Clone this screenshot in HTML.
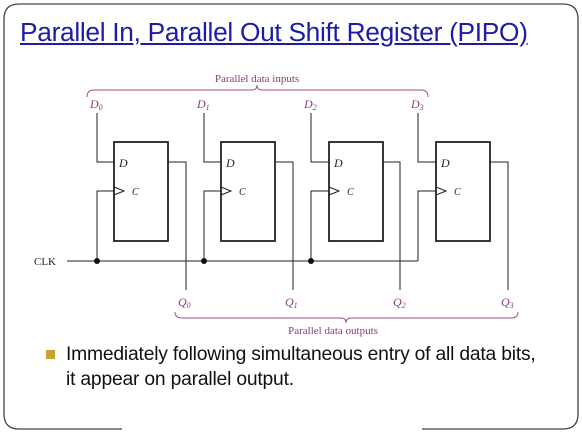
<!DOCTYPE html>
<html><head><style>
body{margin:0;width:582px;height:437px;background:#fff;overflow:hidden;position:relative;font-family:"Liberation Sans",sans-serif}
.t{position:absolute;left:20px;top:17px;font-size:26.3px;color:#1c1ca8;text-decoration:underline;letter-spacing:-0.3px;white-space:nowrap}
.b{position:absolute;left:66px;top:342px;font-size:19.3px;line-height:25px;color:#111;white-space:nowrap;letter-spacing:-0.2px}
.sq{position:absolute;left:46px;top:350px;width:9px;height:9px;background:#c9a233}
</style></head><body>
<svg width="582" height="437" style="position:absolute;left:0;top:0">
<path d="M122 429 H19 Q4 429 4 414 V19 Q4 4 19 4 H563 Q578 4 578 19 V414 Q578 429 563 429 H422" fill="none" stroke="#444" stroke-width="1.3"/>
<g fill="none" stroke="#222" stroke-width="1">
<rect x="114" y="142" width="54" height="99" stroke-width="1.8"/>
<rect x="221" y="142" width="54" height="99" stroke-width="1.8"/>
<rect x="329" y="142" width="54" height="99" stroke-width="1.8"/>
<rect x="436" y="142" width="54" height="99" stroke-width="1.8"/>
<path d="M97 113V162H114M204 113V162H221M311 113V162H329M418 113V162H436"/>
<path d="M97 261V191H114M204 261V191H221M311 261V191H329M418 261V191H436"/>
<path d="M67 261H418"/>
<path d="M168 162H186V290M275 162H293V290M383 162H400V290M490 162H508V290"/>
<path d="M114 187L124 191L114 195M221 187L231 191L221 195M329 187L339 191L329 195M436 187L446 191L436 195"/>
</g>
<g fill="#111"><circle cx="97" cy="261" r="3"/><circle cx="204" cy="261" r="3"/><circle cx="311" cy="261" r="3"/></g>
<g fill="none" stroke="#a0508a" stroke-width="1">
<path d="M87 97Q87 90 94 90H252Q257 90 257 85Q257 90 262 90H421Q428 90 428 97"/>
<path d="M175 312Q175 318 182 318H341Q346 318 346 323Q346 318 351 318H511Q518 318 518 312"/>
</g>
<g font-family="Liberation Serif,serif" font-size="11" fill="#8a3a80">
<text x="257" y="82" text-anchor="middle">Parallel data inputs</text>
<text x="333" y="334" text-anchor="middle">Parallel data outputs</text>
</g>
<g font-family="Liberation Serif,serif" font-style="italic" font-size="12" fill="#8a3a80">
<text x="90" y="108">D<tspan font-size="8" dy="2">0</tspan></text>
<text x="197" y="108">D<tspan font-size="8" dy="2">1</tspan></text>
<text x="304" y="108">D<tspan font-size="8" dy="2">2</tspan></text>
<text x="411" y="108">D<tspan font-size="8" dy="2">3</tspan></text>
<text x="178" y="306">Q<tspan font-size="8" dy="2">0</tspan></text>
<text x="285" y="306">Q<tspan font-size="8" dy="2">1</tspan></text>
<text x="393" y="306">Q<tspan font-size="8" dy="2">2</tspan></text>
<text x="501" y="306">Q<tspan font-size="8" dy="2">3</tspan></text>
</g>
<g font-family="Liberation Serif,serif" font-style="italic" font-size="12" fill="#222">
<text x="119" y="167">D</text><text x="226" y="167">D</text><text x="334" y="167">D</text><text x="441" y="167">D</text>
<text x="132" y="195" font-size="10">C</text><text x="239" y="195" font-size="10">C</text><text x="347" y="195" font-size="10">C</text><text x="454" y="195" font-size="10">C</text>
</g>
<text x="34" y="265" font-family="Liberation Serif,serif" font-size="11" fill="#222">CLK</text>
</svg>
<div class="t">Parallel In, Parallel Out Shift Register (PIPO)</div>
<div class="sq"></div>
<div class="b">Immediately following simultaneous entry of all data bits,<br>it appear on parallel output.</div>
</body></html>
